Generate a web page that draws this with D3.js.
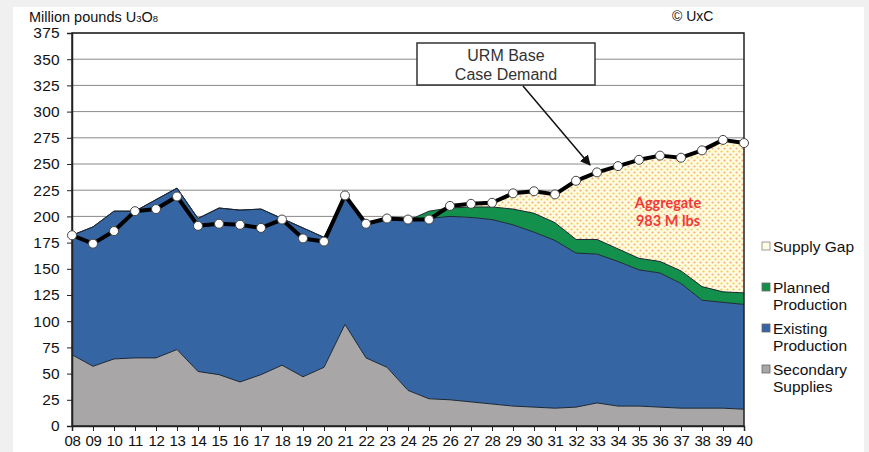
<!DOCTYPE html>
<html>
<head>
<meta charset="utf-8">
<script src="https://cdn.jsdelivr.net/npm/d3@7"></script>
<style>
  body { margin: 0; background: #f0f0f0; }
  svg { display: block; font-family: "Liberation Sans", Arial, sans-serif; }
</style>
</head>
<body>
<svg id="chart" width="869" height="452"></svg>
<script>
// values (million lbs U3O8)
const years = ["08","09","10","11","12","13","14","15","16","17","18","19","20","21","22","23","24",
  "25","26","27","28","29","30","31","32","33","34","35","36","37","38","39","40"];
const secondary = [68,57,64,65,65,73,52,49,42,49,58,47,56,97,65,56,34,
  26,25,23,21,19,18,17,18,22,19,19,18,17,17,17,16];
const existing = [114,133,141,140,151,154,146,159,164,158,140,142,124,123,129,141,162,
  172,175,176,176,173,167,160,147,142,138,130,128,119,103,101,100];
const planned = [0,0,0,0,0,0,0,0,0,0,0,0,0,0,0,0,0,
  7,8,10,12,15,18,17,13,14,12,11,11,12,13,10,11];
const demand = [182,174,186,205,207,219,191,193,192,189,197,179,176,220,193,198,197,
  197,210,212,213,222,224,221,234,242,248,254,258,256,263,273,270];
const yTicks = [0,25,50,75,100,125,150,175,200,225,250,275,300,325,350,375];

const legendItems = [
  { key: "gap", lines: ["Supply Gap"], color: "#fffbe3" },
  { key: "planned", lines: ["Planned", "Production"], color: "#13904c" },
  { key: "existing", lines: ["Existing", "Production"], color: "#3566a3" },
  { key: "secondary", lines: ["Secondary", "Supplies"], color: "#a8a6a6" },
];
const colors = { secondary: "#a8a6a6", existing: "#3566a3", planned: "#13904c" };

const rows = years.map((yr, i) => ({
  year: yr,
  secondary: secondary[i],
  existing: existing[i],
  planned: planned[i],
  demand: demand[i],
}));

const svg = d3.select("#chart");
const plot = { left: 72, right: 744, top: 33, bottom: 426 };

const x = d3.scalePoint().domain(years).range([plot.left, plot.right]);
const y = d3.scaleLinear().domain([0, 375]).range([plot.bottom, plot.top]);

// white card
svg.append("rect").attr("x", 13).attr("y", 7).attr("width", 851).attr("height", 445).attr("fill", "#fff");

const defs = svg.append("defs");
const pat = defs.append("pattern").attr("id", "dots")
  .attr("width", 6).attr("height", 6).attr("patternUnits", "userSpaceOnUse");
pat.append("rect").attr("width", 6).attr("height", 6).attr("fill", "#fffbe0");
pat.append("circle").attr("cx", 1.5).attr("cy", 1.5).attr("r", 1.1).attr("fill", "#efcf4e");
pat.append("circle").attr("cx", 4.5).attr("cy", 4.5).attr("r", 1.1).attr("fill", "#f3ad80");

// gridlines
svg.append("g").selectAll("line").data(yTicks.filter(d => d > 0)).enter().append("line")
  .attr("x1", plot.left).attr("x2", plot.right)
  .attr("y1", d => y(d)).attr("y2", d => y(d))
  .attr("stroke", "#8a8a8a").attr("stroke-width", 1);

const stack = d3.stack().keys(["secondary", "existing", "planned"]);
const series = stack(rows);

const area = d3.area()
  .x(d => x(d.data.year))
  .y0(d => y(d[0]))
  .y1(d => y(d[1]));
const topLine = d3.line()
  .x(d => x(d.data.year))
  .y(d => y(d[1]));

// supply gap between total supply and demand
const total = d => d.secondary + d.existing + d.planned;
svg.append("path").datum(rows)
  .attr("fill", "url(#dots)")
  .attr("d", d3.area()
    .x(d => x(d.year))
    .y0(d => y(total(d)))
    .y1(d => y(Math.max(total(d), d.demand))));

svg.append("g").selectAll("path").data(series).enter().append("path")
  .attr("fill", d => colors[d.key])
  .attr("d", area);

svg.append("g").selectAll("path").data(series).enter().append("path")
  .attr("fill", "none")
  .attr("stroke", "#1d2733")
  .attr("stroke-width", 1)
  .attr("d", topLine);

// plot frame
svg.append("rect")
  .attr("x", plot.left).attr("y", plot.top)
  .attr("width", plot.right - plot.left).attr("height", plot.bottom - plot.top)
  .attr("fill", "none").attr("stroke", "#222").attr("stroke-width", 1.5);

// axes
const yAxis = svg.append("g")
  .attr("transform", `translate(${plot.left},0)`)
  .call(d3.axisLeft(y).tickValues(yTicks).tickSize(5).tickPadding(7));
const xAxis = svg.append("g")
  .attr("transform", `translate(0,${plot.bottom})`)
  .call(d3.axisBottom(x).tickSize(5).tickPadding(4));
[yAxis, xAxis].forEach(g => {
  g.select(".domain").attr("stroke", "#222").attr("stroke-width", 1.5);
  g.selectAll(".tick line").attr("stroke", "#222");
  g.selectAll(".tick text").attr("fill", "#111")
    .style("font-family", '"Liberation Sans", Arial, sans-serif');
});
yAxis.selectAll(".tick text").style("font-size", "15.5px").style("letter-spacing", "0.3px");
xAxis.selectAll(".tick text").style("font-size", "15px").style("letter-spacing", "-0.4px");

// demand line with markers
svg.append("path").datum(rows)
  .attr("fill", "none")
  .attr("stroke", "#000")
  .attr("stroke-width", 4)
  .attr("stroke-linejoin", "round")
  .attr("d", d3.line().x(d => x(d.year)).y(d => y(d.demand)));
svg.append("g").selectAll("circle").data(rows).enter().append("circle")
  .attr("cx", d => x(d.year)).attr("cy", d => y(d.demand))
  .attr("r", 4.5)
  .attr("fill", "#fff").attr("stroke", "#444").attr("stroke-width", 1);

// titles
const title = svg.append("text").attr("x", 29).attr("y", 22)
  .style("font-size", "14.5px").attr("fill", "#111");
title.append("tspan").text("Million pounds U");
title.append("tspan").style("font-size", "9.5px").text("3");
title.append("tspan").text("O");
title.append("tspan").style("font-size", "9.5px").text("8");

svg.append("text").attr("x", 672).attr("y", 21)
  .style("font-size", "14px").attr("fill", "#111").text("© UxC");

// annotation box + arrow
defs.append("marker").attr("id", "arrow")
  .attr("viewBox", "0 0 10 10").attr("refX", 9).attr("refY", 5)
  .attr("markerWidth", 7).attr("markerHeight", 7).attr("orient", "auto")
  .append("path").attr("d", "M0,0L10,5L0,10z").attr("fill", "#111");

svg.append("line")
  .attr("x1", 523).attr("y1", 86).attr("x2", 590).attr("y2", 165)
  .attr("stroke", "#111").attr("stroke-width", 1.5)
  .attr("marker-end", "url(#arrow)");
svg.append("rect").attr("x", 417).attr("y", 43).attr("width", 178).attr("height", 42)
  .attr("fill", "#fff").attr("stroke", "#333").attr("stroke-width", 1.5);
svg.append("text").attr("x", 506).attr("y", 61).attr("text-anchor", "middle")
  .style("font-size", "16px").attr("fill", "#333").text("URM Base");
svg.append("text").attr("x", 506).attr("y", 80).attr("text-anchor", "middle")
  .style("font-size", "16px").attr("fill", "#333").text("Case Demand");

svg.append("text").attr("x", 668).attr("y", 208).attr("text-anchor", "middle")
  .style("font-family", "Lato, 'Open Sans', sans-serif").style("font-weight", "bold")
  .style("font-size", "14.5px").attr("fill", "#f03a3a").text("Aggregate");
svg.append("text").attr("x", 668).attr("y", 226).attr("text-anchor", "middle")
  .style("font-family", "Lato, 'Open Sans', sans-serif").style("font-weight", "bold")
  .style("font-size", "14.5px").attr("fill", "#f03a3a").text("983 M lbs");

// legend
const legendY = [247, 288, 329, 370];
const lg = svg.append("g").selectAll("g").data(legendItems).enter().append("g")
  .attr("transform", (d, i) => `translate(762,${legendY[i]})`);
lg.append("rect").attr("x", 0).attr("y", -5).attr("width", 8).attr("height", 8)
  .attr("fill", d => d.color)
  .attr("stroke", d => d.key === "gap" ? "#888" : "#666").attr("stroke-width", 0.8);
lg.each(function (d) {
  const t = d3.select(this).append("text").attr("x", 11).attr("y", 5)
    .style("font-size", "15.5px").attr("fill", "#111");
  d.lines.forEach((ln, j) => {
    t.append("tspan").attr("x", 11).attr("dy", j === 0 ? 0 : 17).text(ln);
  });
});
</script>
</body>
</html>
